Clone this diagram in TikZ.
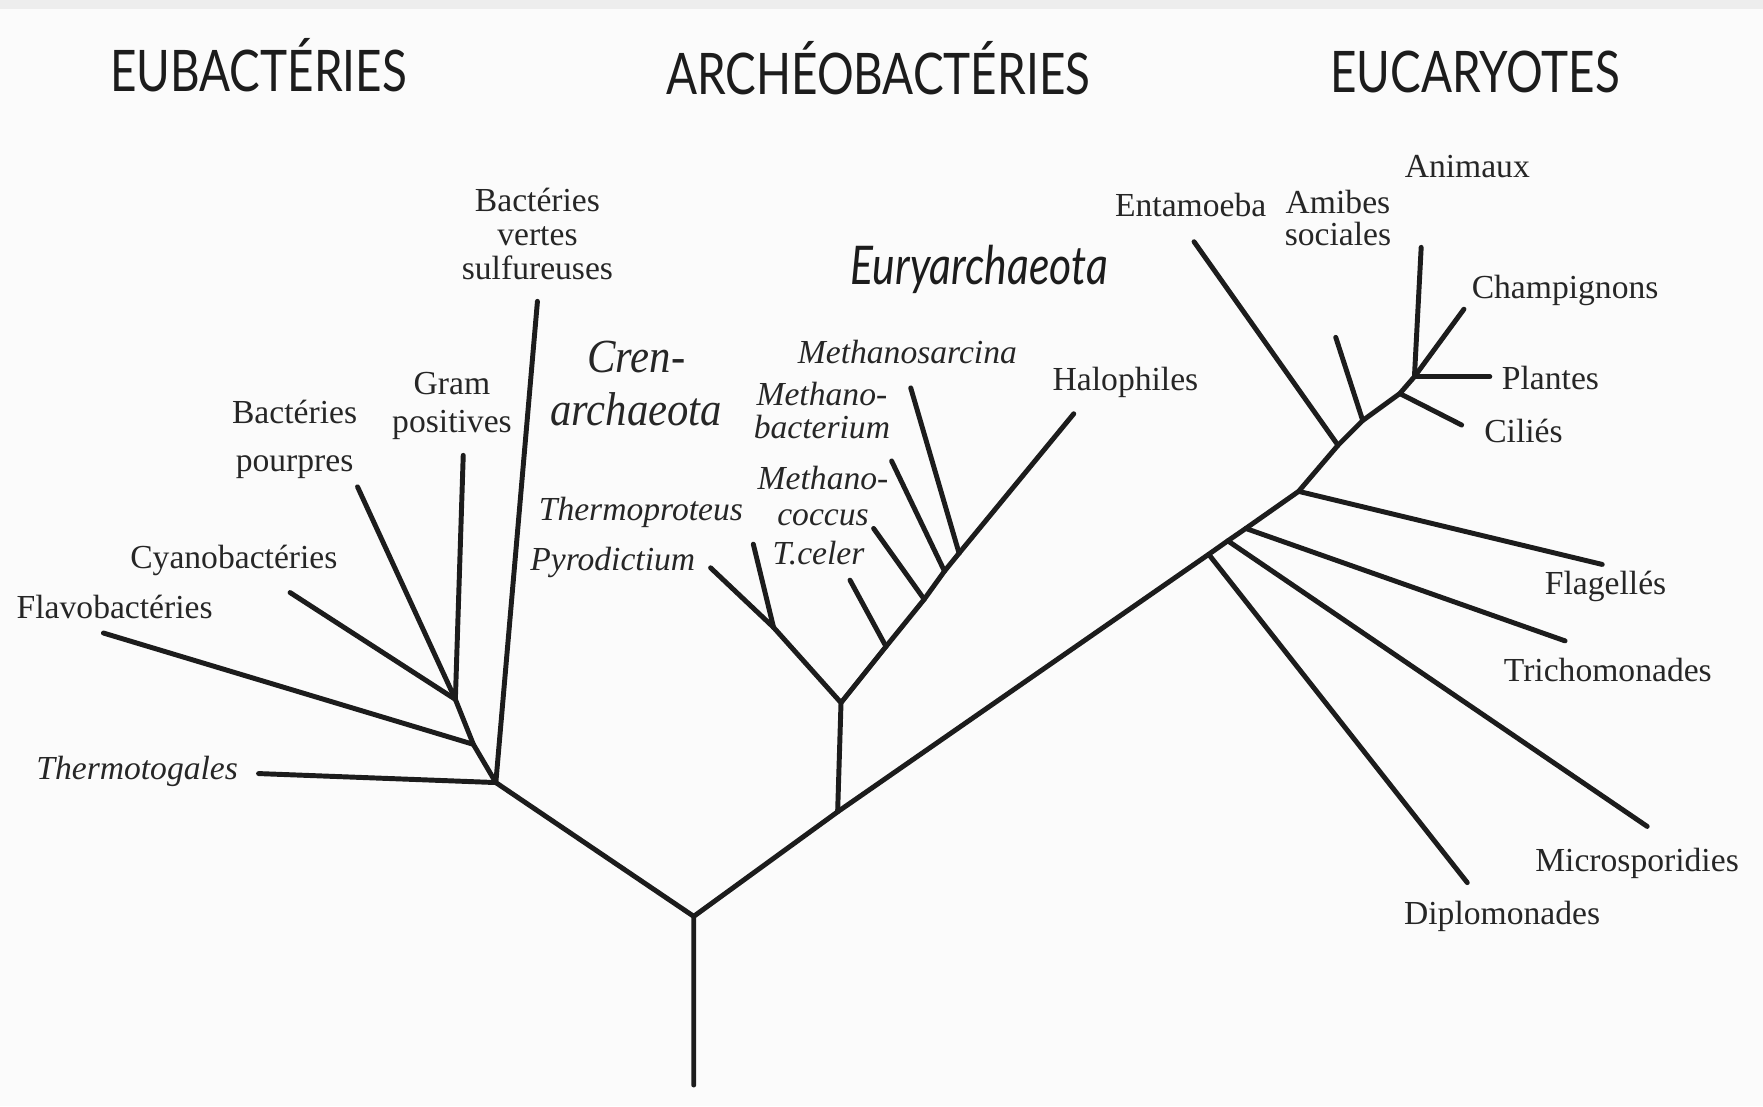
\documentclass[tikz,border=0pt]{standalone}
\usepackage{fontspec}
\setmainfont{Liberation Serif}
\newfontfamily\headfont[FakeStretch=0.8]{Lato}
\newfontfamily\crenfont[FakeStretch=0.9]{Liberation Serif}
\usetikzlibrary{positioning}
\definecolor{treeInk}{HTML}{1C1C1C}
\definecolor{labelInk}{HTML}{262626}
\definecolor{paperBg}{HTML}{FBFBFB}
\definecolor{paperTop}{HTML}{EDEDED}

\begin{document}
\begin{tikzpicture}[x=0.01cm,y=-0.01cm,
  branch/.style={draw=treeInk,line width=1.25pt,line cap=round,line join=round},
  taxon/.style={text=labelInk,inner sep=0pt,align=center,font=\fontsize{8.5}{#1}\selectfont},
  taxon/.default=8.6,
  taxonit/.style={taxon=#1,font=\fontsize{8.5}{#1}\selectfont\itshape},
  taxonit/.default=8.6,
  kingdom/.style={text=treeInk,inner sep=0pt,font=\headfont\fontsize{14.5}{15}\selectfont}]
\useasboundingbox (0,0) rectangle (1568,984);
\fill[paperBg] (0,0) rectangle (1568,984);
\fill[paperTop] (0,0) rectangle (1568,8);

\node[kingdom] (eubac) at (230,58) {EUBACTÉRIES};
\node[kingdom] (archeo) at (781,61) {ARCHÉOBACTÉRIES};
\node[kingdom] (eucar) at (1312,64) {EUCARYOTES};

\coordinate (base) at (617,965);
\coordinate (r0) at (617,815);
\coordinate (e0) at (441,696);
\coordinate (e1) at (421,662);
\coordinate (e2) at (405,622);
\coordinate (a0) at (745,722);
\coordinate (a1) at (748,625);
\coordinate (c0) at (688,558);
\coordinate (m1) at (788,575);
\coordinate (m2) at (822,533);
\coordinate (m3) at (840,508);
\coordinate (m4) at (853,492);
\coordinate (k1) at (1075,493);
\coordinate (k2) at (1092,481);
\coordinate (k3) at (1108,470);
\coordinate (k4) at (1155,437);
\coordinate (k5) at (1190,396);
\coordinate (k6) at (1212,374);
\coordinate (k7) at (1245,350);
\coordinate (k8) at (1258,335);

\draw[branch] (base) -- (r0) -- (e0) -- (e1) -- (e2);
\draw[branch] (r0) -- (a0) -- (k1) -- (k2) -- (k3) -- (k4) -- (k5) -- (k6) -- (k7) -- (k8);
\draw[branch] (a0) -- (a1) -- (c0);
\draw[branch] (a1) -- (m1) -- (m2) -- (m3) -- (m4);

\foreach \tip/\x/\y/\jn in {thermotog/230/688/e0,sulfur/478/268/e0,flavo/92/563/e1,
  cyano/258/527/e2,pourpres/318/433/e2,gram/412/405/e2,
  pyro/632/505/c0,thermoprot/670/484/c0,tceler/756/516/m1,mcoccus/777/470/m2,
  mbact/793/410/m3,msarc/810/345/m4,halo/955/368/m4,
  diplo/1305/785/k1,micro/1465/735/k2,tricho/1392/570/k3,flag/1425/502/k4,
  entam/1062/215/k5,amibes/1188/300/k6,cilies/1300/378/k7,
  plantes/1325/335/k8,animaux/1264/220/k8,champi/1302/275/k8}{
  \coordinate (\tip) at (\x,\y);
  \draw[branch] (\tip) -- (\jn);
}

\foreach \nm/\x/\y/\txt in {flavoL/102/540/Flavobactéries,cyanoL/208/498/Cyanobactéries,
  haloL/1001/340/Halophiles,entamL/1059/182/Entamoeba,animauxL/1305/148/Animaux,
  champiL/1392/258/Champignons,plantesL/1379/336/Plantes,ciliesL/1355/383/Ciliés,
  flagL/1428/522/Flagellés,trichoL/1430/596/Trichomonades,
  microL/1456/768/Microsporidies,diploL/1336/815/Diplomonades}{
  \node[taxon] (\nm) at (\x,\y) {\txt};
}
\foreach \nm/\x/\y/\txt in {thermotogL/122/686/Thermotogales,thermoprotL/570/456/Thermoproteus,
  pyroL/545/500/Pyrodictium,tcelerL/728/492/T.celer,msarcL/807/313/Methanosarcina}{
  \node[taxonit] (\nm) at (\x,\y) {\txt};
}

\node[taxon=12.2] (pourpresL) at (262,391) {Bactéries\\pourpres};
\node[taxon=9.4] (gramL) at (402,361) {Gram\\positives};
\node[taxon=8.5] (sulfurL) at (478,208) {Bactéries\\vertes\\sulfureuses};
\node[taxonit=8.5] (mbactL) at (731,365) {Methano-\\bacterium};
\node[taxonit=9] (mcoccusL) at (732,441) {Methano-\\coccus};
\node[taxon=8] (amibesL) at (1190,194) {Amibes\\sociales};
\node[inner sep=0pt,align=center,text=labelInk,font=\crenfont\fontsize{12}{13.3}\selectfont\itshape] (crenL) at (566,341) {Cren-\\archaeota};
\node[inner sep=0pt,text=treeInk,font=\headfont\fontsize{13.5}{14}\selectfont\itshape] (euryL) at (871,240) {Euryarchaeota};
\end{tikzpicture}
\end{document}
